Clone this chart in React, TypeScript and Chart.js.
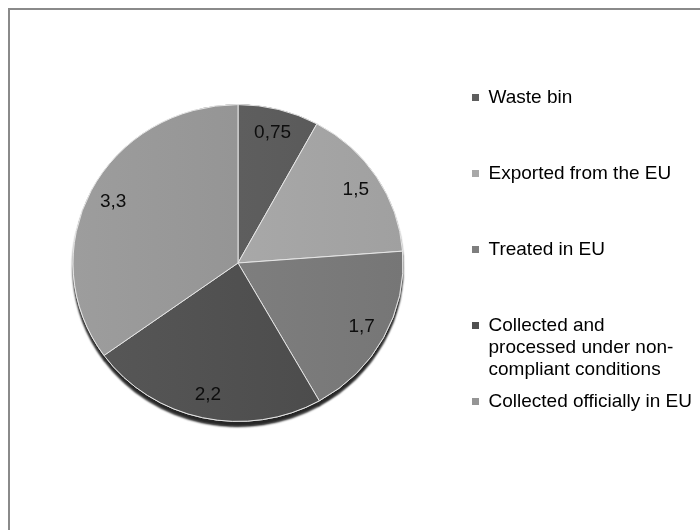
import React, { useEffect, useRef } from "react";
import { Chart, registerables } from "chart.js";

Chart.register(...registerables);

// ---- data ----
const categories = [
  "Waste bin",
  "Exported from the EU",
  "Treated in EU",
  "Collected and processed under non-compliant conditions",
  "Collected officially in EU",
];
// legend text, one entry per category, split into lines as in the reference
const legendLines = [
  ["Waste bin", "", ""],
  ["Exported from the EU", "", ""],
  ["Treated in EU", "", ""],
  ["Collected and", "processed under non-", "compliant conditions"],
  ["Collected officially in EU", "", ""],
];
const values = [0.75, 1.5, 1.7, 2.2, 3.3];
const sliceColors = ["#5e5e5e", "#a8a8a8", "#7e7e7e", "#505050", "#959595"];

// ---- style ----
const FONT = '"Liberation Sans", Arial, sans-serif';
const PIE_R = 165;
const Y_SCALE = 0.96;

function shade(hex: string, d: number) {
  const n = parseInt(hex.slice(1), 16);
  const c = (v: number) => Math.max(0, Math.min(255, v + d));
  return `rgb(${c((n >> 16) & 255)},${c((n >> 8) & 255)},${c(n & 255)})`;
}

const fmt = (v: number) => String(v).replace(".", ",");

const pie3dPlugin = {
  id: "pie3d",
  beforeDatasetsDraw(chart: any) {
    const meta = chart.getDatasetMeta(0);
    if (!meta.data.length) return;
    const { x, y } = meta.data[0];
    const ctx = chart.ctx;
    ctx.save();
    ctx.translate(x, y);
    ctx.scale(1, Y_SCALE);
    ctx.translate(-x, -y);
    // shadow pass (3D rim below the pie)
    ctx.save();
    ctx.shadowColor = "rgba(0,0,0,0.85)";
    ctx.shadowOffsetX = 0;
    ctx.shadowOffsetY = 5;
    ctx.shadowBlur = 2;
    meta.data.forEach((a: any) => a.draw(ctx));
    ctx.restore();
  },
  afterDatasetsDraw(chart: any) {
    const meta = chart.getDatasetMeta(0);
    if (!meta.data.length) return;
    const ctx = chart.ctx;
    ctx.restore();
    ctx.save();
    ctx.font = `19px ${FONT}`;
    ctx.fillStyle = "#0d0d0d";
    ctx.textAlign = "center";
    ctx.textBaseline = "middle";
    meta.data.forEach((a: any, i: number) => {
      const p = a.getProps(["x", "y", "startAngle", "endAngle", "outerRadius"], true);
      const mid = (p.startAngle + p.endAngle) / 2;
      const r = p.outerRadius * 0.85;
      ctx.fillText(
        fmt(values[i]),
        p.x + Math.cos(mid) * r,
        p.y + Math.sin(mid) * r * Y_SCALE
      );
    });
    ctx.restore();
  },
};

export default function App() {
  const ref = useRef<HTMLCanvasElement | null>(null);

  useEffect(() => {
    if (!ref.current) return;
    const chart = new Chart(ref.current, {
      type: "pie",
      data: {
        labels: categories,
        datasets: [
          {
            data: values,
            backgroundColor: (c: any) => {
              const base = sliceColors[c.dataIndex] || sliceColors[0];
              const area = c.chart.chartArea;
              if (!area) return base;
              const cx = (area.left + area.right) / 2;
              const g = c.chart.ctx.createLinearGradient(cx - PIE_R, 0, cx + PIE_R, 0);
              g.addColorStop(0, shade(base, 8));
              g.addColorStop(1, shade(base, -8));
              return g;
            },
            borderColor: "#e6e6e6",
            borderWidth: 1,
            radius: PIE_R,
          },
        ],
      },
      options: {
        responsive: false,
        devicePixelRatio: 1,
        animation: false,
        layout: { padding: { left: 14, right: 0, top: 58, bottom: 62 } },
        plugins: {
          tooltip: { enabled: false },
          legend: {
            position: "right",
            align: "end",
            maxWidth: 238,
            labels: {
              boxWidth: 7,
              boxHeight: 7,
              padding: 10,
              color: "#111111",
              font: { family: FONT, size: 19, lineHeight: "22px" },
              generateLabels: () =>
                legendLines.map((lines, i) => ({
                  text: lines,
                  fillStyle: sliceColors[i],
                  strokeStyle: sliceColors[i],
                  lineWidth: 0,
                  hidden: false,
                  index: i,
                })),
            },
          },
        },
      } as any,
      plugins: [pie3dPlugin],
    });
    return () => chart.destroy();
  }, []);

  return (
    <div
      style={{
        position: "fixed",
        left: 0,
        top: 0,
        width: 700,
        height: 530,
        background: "#ffffff",
        overflow: "hidden",
      }}
    >
      <div
        style={{
          position: "absolute",
          left: 8,
          top: 8,
          width: 720,
          height: 560,
          borderTop: "2px solid #8a8a8a",
          borderLeft: "2px solid #8a8a8a",
          boxSizing: "border-box",
        }}
      />
      <canvas
        ref={ref}
        width={700}
        height={530}
        style={{ position: "absolute", left: 0, top: 0, display: "block" }}
      />
    </div>
  );
}
